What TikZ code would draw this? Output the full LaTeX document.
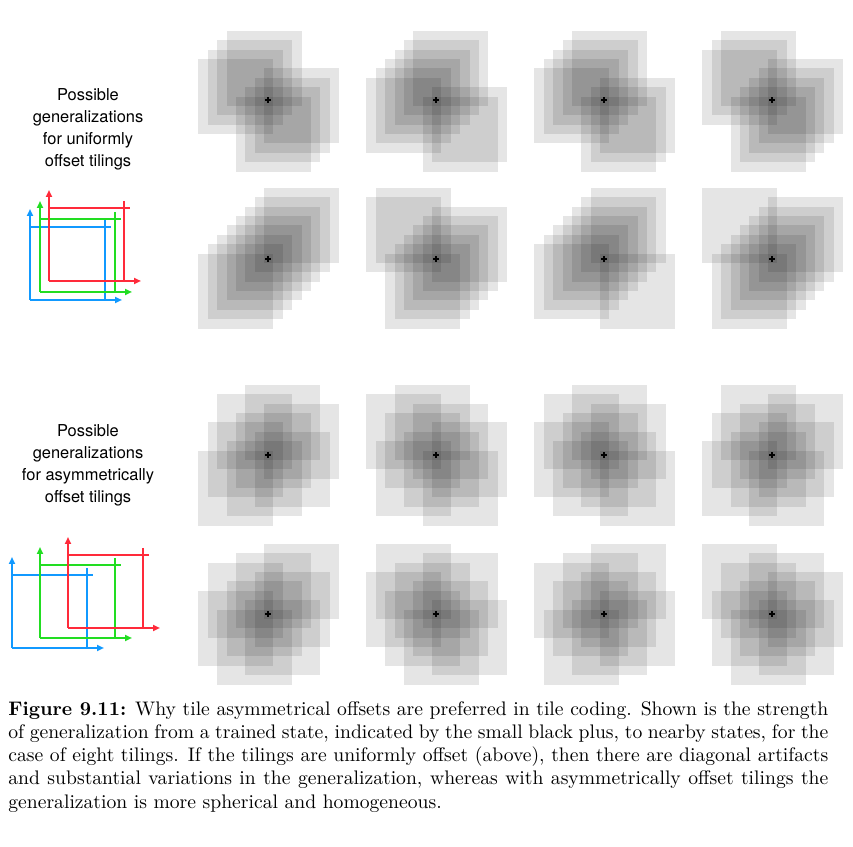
\documentclass[tikz,border=0pt]{standalone}
\usepackage{fontspec}
\setmainfont{Latin Modern Roman}
\newfontfamily\labelfont{TeX Gyre Heros}
\usetikzlibrary{arrows.meta}
\definecolor{icred}{HTML}{FF2A3A}
\definecolor{icgreen}{HTML}{22DD22}
\definecolor{icblue}{HTML}{1199FF}
\tikzset{
  tile/.style={fill=black,fill opacity=0.1},
  trplus/.style={black,line width=1.3bp},
  axisline/.style={line width=2.4bp,-{Triangle[length=7bp,width=6bp]}},
  gridline/.style={line width=2.4bp},
  sidelabel/.style={font=\labelfont\fontsize{16.5}{22}\selectfont,align=center},
  icon/.pic={
    \draw[axisline] (0,0) -- (0,91);
    \draw[axisline] (0,0) -- (92,0);
    \draw[gridline] (0,73) -- (81,73);
    \draw[gridline] (75,80) -- (75,0);
  }
}
\begin{document}
\begin{tikzpicture}[x=1bp,y=1bp]
\useasboundingbox (0,0) rectangle (853,847);
% panels: px/py/b0/m/k
\foreach \px/\py/\bz/\m/\k in {
  268/747/6/1/4, 436/747/6/1/6, 604/747/6/1/5, 772/747/6/1/3,
  268/588/4/1/0, 436/588/4/1/2, 604/588/4/1/7, 772/588/4/1/1,
  268/392/5/3/2, 436/392/5/3/4, 604/392/5/3/7, 772/392/5/3/1,
  268/233/5/3/0, 436/233/5/3/6, 604/233/5/3/5, 772/233/5/3/3}{
  \foreach \i in {0,...,7}{
    \pgfmathsetmacro\a{4+\i*9.375}
    \pgfmathsetmacro\b{\bz+mod(\m*\i+\k,8)*9.375}
    \fill[tile] (\px-\a,\py-\b) rectangle ++(75,75);
  }
  \coordinate (c) at (\px,\py);
  \draw[trplus] ([xshift=-2.6bp]c) -- ([xshift=2.6bp]c);
  \draw[trplus] ([yshift=-2.6bp]c) -- ([yshift=2.6bp]c);
}
\node[sidelabel] (lab1) at (88,718) {Possible\\generalizations\\for uniformly\\offset tilings};
\node[sidelabel] (lab2) at (88,382) {Possible\\generalizations\\for asymmetrically\\offset tilings};
% icons
\pic[icblue] at (30,547) {icon};
\pic[icgreen] at (40,555) {icon};
\pic[icred] at (49,566) {icon};
\pic[icblue] at (12,199) {icon};
\pic[icgreen] at (40,209) {icon};
\pic[icred] at (68,219) {icon};
% caption
\node[anchor=north west,inner sep=0pt,scale=1.97,transform shape,text width=416.2bp,align=justify,
  font=\fontsize{10}{11.83}\selectfont] (cap) at (8,146)
{\textbf{Figure 9.11:} Why tile asymmetrical offsets are preferred in tile coding. Shown is the strength\linebreak
of generalization from a trained state, indicated by the small black plus, to nearby states, for the\linebreak
case of eight tilings. If the tilings are uniformly offset (above), then there are diagonal artifacts\linebreak
and substantial variations in the generalization, whereas with asymmetrically offset tilings the\linebreak
generalization is more spherical and homogeneous.};
\end{tikzpicture}
\end{document}
